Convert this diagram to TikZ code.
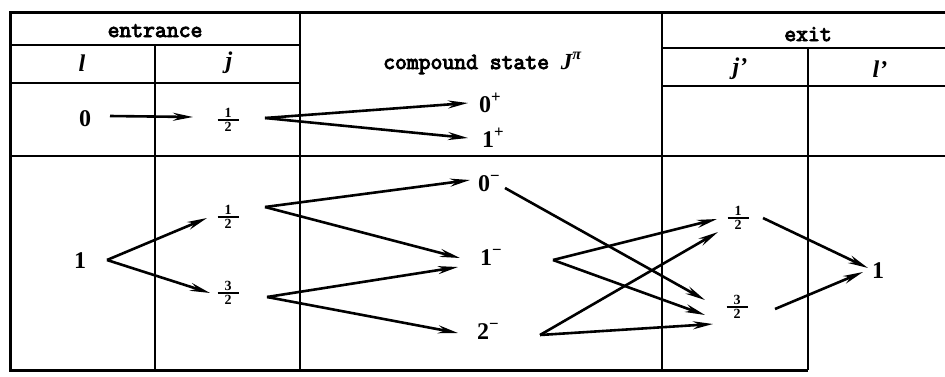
\documentclass[tikz,border=0pt]{standalone}
\usepackage{fontspec}
\setmainfont{Liberation Serif}
\newfontfamily\hdrfont[FakeBold=4]{Latin Modern Mono}
\usetikzlibrary{arrows.meta,calc}
\newcommand\hfrac[2]{\vbox{\offinterlineskip\halign{\hfil##\hfil\cr{\fontsize{14}{14}\selectfont\bfseries #1}\cr\noalign{\kern1.2pt}\rule{21pt}{2pt}\cr\noalign{\kern1.2pt}{\fontsize{14}{14}\selectfont\bfseries #2}\cr}}}
\tikzset{
  gridline/.style={line width=2pt},
  borderline/.style={line width=3pt},
  arr/.style={line width=2.6pt, -{Stealth[length=20pt,width=8pt]}},
  num/.style={font=\fontsize{24}{24}\selectfont\bfseries, inner sep=0pt, text height=16pt, text depth=0pt},
  hdr/.style={font=\fontsize{23}{23}\selectfont\hdrfont, inner sep=0pt},
  sym/.style={font=\fontsize{24}{24}\selectfont\bfseries\itshape, inner sep=0pt},
  frc/.style={inner sep=0pt}
}
\begin{document}
\begin{tikzpicture}[x=1pt,y=-1pt]
\useasboundingbox (0,0) rectangle (945,376);
% table
\draw[borderline] (945,12) -- (10,12) -- (10,370) -- (807.5,370);
\draw[gridline] (10,45) -- (300,45);
\draw[gridline] (662,48) -- (945,48);
\draw[gridline] (10,83) -- (300,83);
\draw[gridline] (662,86) -- (945,86);
\draw[gridline] (10,156) -- (945,156);
\draw[gridline] (154.5,45) -- (154.5,370);
\draw[gridline] (300,12) -- (300,370);
\draw[gridline] (662,12) -- (662,370);
\draw[gridline] (807.5,48) -- (807.5,370);
% headers
\node[hdr, anchor=base] (hEnt) at (155,37) {entrance};
\node[hdr, anchor=base west] (hCmp) at (383,69) {compound state {\rmfamily\bfseries\itshape J\textsuperscript{π}}};
\node[hdr, anchor=base] (hExit) at (808,41) {exit};
\node[sym] (hl) at (82,63) {l};
\node[sym] (hj) at (229,63) {j};
\node[sym] (hjp) at (740,69) {j’};
\node[sym] (hlp) at (880,69) {l’};
% row 0
\node[num] (L0) at (85,118) {0};
\node[frc] (J0) at (228,120) {\hfrac{1}{2}};
\node[num, anchor=west] (P0) at (479,104) {0\textsuperscript{+}};
\node[num, anchor=west] (P1) at (482,139) {1\textsuperscript{+}};
% row 1
\node[num] (L1) at (80,260) {1};
\node[frc] (Ja) at (228,217) {\hfrac{1}{2}};
\node[frc] (Jb) at (228,293) {\hfrac{3}{2}};
\node[num, anchor=west] (M0) at (478,183) {0\textsuperscript{−}};
\node[num, anchor=west] (M1) at (480,257) {1\textsuperscript{−}};
\node[num, anchor=west] (M2) at (477,331) {2\textsuperscript{−}};
\node[frc] (Xa) at (738,218) {\hfrac{1}{2}};
\node[frc] (Xb) at (737,307) {\hfrac{3}{2}};
\node[num] (Lx) at (878,270) {1};
% arrows row 0
\draw[arr] ($(L0)+(25,-2)$) -- ($(J0)+(-35,-3)$);
\draw[arr] ($(J0)+(37,-2)$) -- ($(P0.west)+(-11,-1)$);
\draw[arr] ($(J0)+(37,-2)$) -- ($(P1.west)+(-14,-1)$);
% arrows row 1
\draw[arr] ($(L1)+(27,0)$) -- ($(Ja)+(-21,1)$);
\draw[arr] ($(L1)+(27,0)$) -- ($(Jb)+(-18,0)$);
\draw[arr] ($(Ja)+(37,-10)$) -- ($(M0.west)+(-8,-3)$);
\draw[arr] ($(Ja)+(37,-10)$) -- ($(M1.west)+(-20,1)$);
\draw[arr] ($(Jb)+(39,4)$) -- ($(M1.west)+(-22,10)$);
\draw[arr] ($(Jb)+(39,4)$) -- ($(M2.west)+(-19,2)$);
\draw[arr] ($(M0.west)+(27,5)$) -- ($(Xb)+(-32,-7)$);
\draw[arr] ($(M1.west)+(73,3)$) -- ($(Xa)+(-21,1)$);
\draw[arr] ($(M1.west)+(73,3)$) -- ($(Xb)+(-32,8)$);
\draw[arr] ($(M2.west)+(63,4)$) -- ($(Xa)+(-20,14)$);
\draw[arr] ($(M2.west)+(63,4)$) -- ($(Xb)+(-24,17)$);
\draw[arr] ($(Xa)+(25,0)$) -- ($(Lx)+(-10,-2)$);
\draw[arr] ($(Xb)+(38,2)$) -- ($(Lx)+(-15,2)$);
\end{tikzpicture}
\end{document}
